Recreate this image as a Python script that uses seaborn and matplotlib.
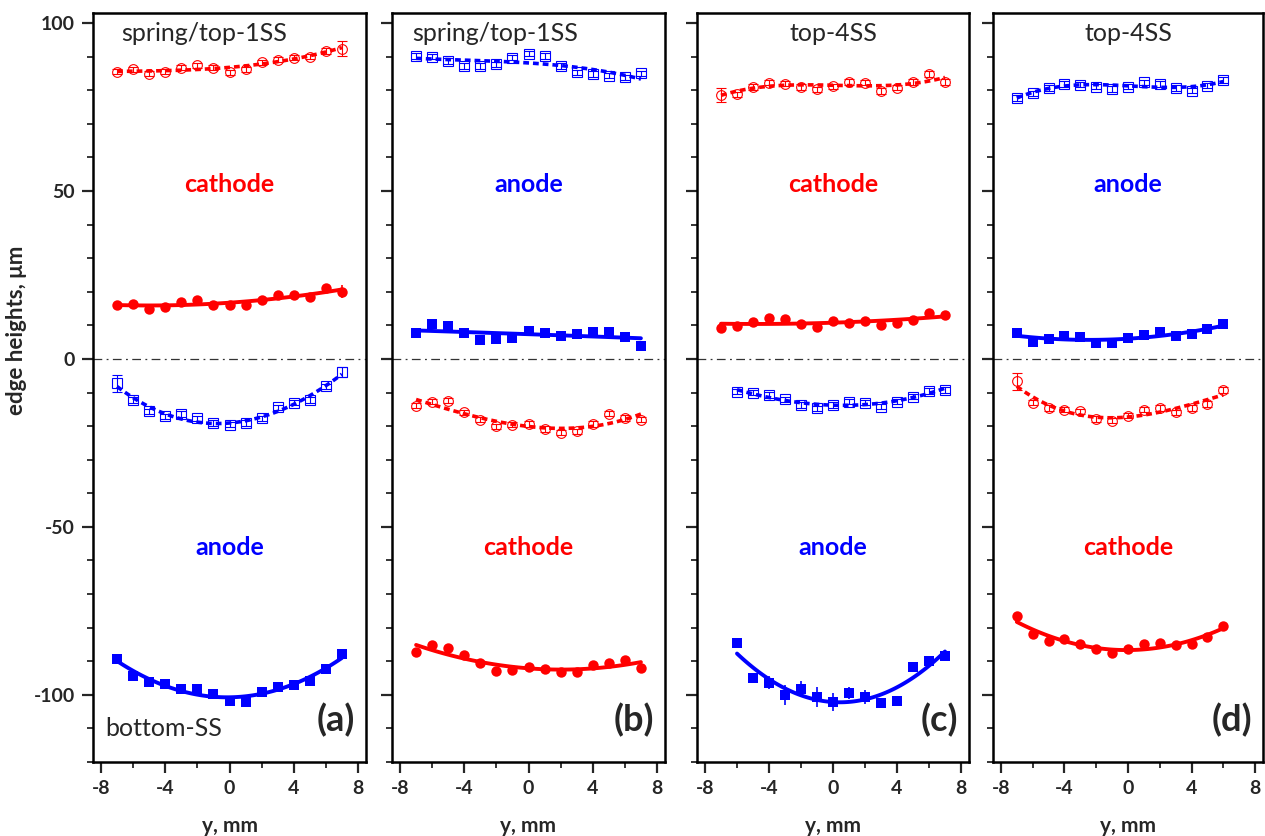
import numpy as np
import matplotlib
matplotlib.use("Agg")
import matplotlib.pyplot as plt
import seaborn as sns
from matplotlib.ticker import MultipleLocator

# --- data (y position in mm, edge height in um) ---
pos_full = [-7, -6, -5, -4, -3, -2, -1, 0, 1, 2, 3, 4, 5, 6, 7]
pos_c = [-6, -5, -4, -3, -2, -1, 0, 1, 2, 3, 4, 5, 6, 7]
pos_d = [-7, -6, -5, -4, -3, -2, -1, 0, 1, 2, 3, 4, 5, 6]

# (a) spring/top-1SS vs bottom-SS
a_top_open = [85.5, 86.2, 84.9, 85.5, 86.7, 87.4, 86.7, 85.3, 86.2, 88.3, 89.1, 89.7, 90.0, 91.7, 92.4]
a_top_open_err = [0.8, 0.8, 0.8, 0.8, 0.8, 0.8, 0.8, 0.8, 0.8, 0.8, 0.8, 0.8, 0.8, 0.8, 2.3]
a_top_fill = [16.0, 16.5, 15.0, 15.5, 17.0, 17.5, 16.0, 16.0, 16.0, 17.5, 19.0, 19.0, 18.5, 21.0, 20.0]
a_top_fill_err = [0, 0, 0, 0, 0, 0, 0, 0, 0, 0, 0, 0, 0, 0, 2.0]
a_bot_open = [-7.2, -12.2, -15.6, -17.1, -16.4, -17.7, -19.1, -19.6, -19.1, -17.7, -14.4, -13.0, -12.2, -8.2, -4.0]
a_bot_open_err = [2.5, 0.8, 0.8, 0.8, 0.8, 0.8, 0.8, 0.8, 0.8, 0.8, 0.8, 0.8, 0.8, 0.8, 1.5]
a_bot_fill = [-89.3, -94.3, -96.2, -96.7, -98.2, -98.2, -99.7, -101.7, -102.2, -99.2, -97.7, -97.2, -96.0, -92.3, -87.8]
a_bot_fill_err = [1.5, 0, 0, 0, 0, 0, 0, 0, 0, 0, 0, 0, 0, 0, 0]

# (b) spring/top-1SS
b_top_open = [90.2, 90.0, 88.7, 87.2, 87.2, 87.7, 89.7, 90.9, 90.2, 87.2, 85.3, 84.8, 84.3, 83.8, 85.0]
b_top_fill = [7.6, 10.3, 9.8, 7.8, 5.6, 5.8, 6.3, 8.4, 7.8, 6.9, 7.3, 8.1, 8.1, 6.6, 3.9]
b_bot_open = [-13.9, -12.7, -12.4, -15.9, -18.1, -20.1, -19.6, -19.4, -20.9, -21.9, -21.6, -19.4, -16.3, -17.6, -18.1]
b_bot_fill = [-87.3, -85.2, -86.2, -88.1, -90.6, -92.8, -92.5, -91.6, -92.3, -93.3, -93.3, -91.1, -90.6, -89.6, -92.0]

# (c) top-4SS
c_top_open = [78.6, 78.8, 81.0, 82.3, 82.0, 81.0, 80.3, 81.2, 82.5, 82.3, 79.8, 80.8, 82.5, 84.8, 82.5]
c_top_open_err = [2.0, 0.8, 0.8, 0.8, 0.8, 0.8, 0.8, 0.8, 0.8, 0.8, 0.8, 0.8, 0.8, 0.8, 0.8]
c_top_fill = [9.1, 9.9, 11.1, 12.3, 11.9, 10.3, 9.6, 11.3, 10.6, 11.3, 10.1, 10.6, 11.6, 13.6, 13.1]
c_bot_open = [-9.7, -10.0, -10.7, -12.0, -13.7, -14.7, -13.7, -12.7, -13.0, -14.2, -12.7, -11.2, -9.5, -9.2]
c_bot_fill = [-84.6, -95.1, -96.4, -100.0, -98.2, -100.7, -102.2, -99.4, -100.7, -102.4, -101.7, -91.8, -89.8, -88.3]
c_bot_fill_err = [0, 0, 1.9, 3.0, 2.4, 3.0, 2.7, 1.8, 2.0, 1.5, 0, 0, 0, 0]

# (d) top-4SS
d_top_open = [77.7, 79.1, 80.7, 81.9, 81.7, 81.1, 80.4, 81.1, 82.4, 81.9, 80.7, 79.9, 81.4, 83.1]
d_top_fill = [7.6, 5.1, 5.9, 6.8, 6.6, 4.8, 4.7, 6.1, 7.1, 8.1, 6.8, 7.4, 8.8, 10.3]
d_bot_open = [-6.7, -13.0, -14.6, -15.1, -15.6, -17.9, -18.4, -16.9, -15.1, -14.6, -15.9, -14.6, -13.4, -9.2]
d_bot_open_err = [2.5, 0.8, 0.8, 0.8, 0.8, 0.8, 0.8, 0.8, 0.8, 0.8, 0.8, 0.8, 0.8, 0.8]
d_bot_fill = [-76.5, -81.9, -83.9, -83.4, -84.9, -86.4, -87.6, -86.4, -84.9, -84.7, -85.1, -84.9, -82.9, -79.6]

RED = '#ff0000'
BLUE = '#0000ff'

sns.set_style("ticks")
plt.rcParams['font.family'] = ['Lato', 'DejaVu Sans']
plt.rcParams['font.weight'] = 'bold'
plt.rcParams['axes.unicode_minus'] = False

fig = plt.figure(figsize=(12.65, 8.36), dpi=100)
W, H = 1265.0, 836.0
lefts = [93, 392, 697, 993]
widths = [273, 273, 272, 270]
top_px, bot_px = 13, 762


def draw(ax, x, y, err, color, marker, filled, order):
    if err is None:
        err = [0.8] * len(x) if not filled else None
    if filled:
        ax.errorbar(x, y, yerr=err, fmt=marker, color=color, ms=7.5, mew=0,
                    capsize=4, elinewidth=1.2, capthick=1.2, zorder=3)
        ls = '-'
        lw = 2.8
    else:
        ax.errorbar(x, y, yerr=err, fmt=marker, mfc='none', mec=color, ecolor=color,
                    ms=7, mew=0.8, capsize=3.5, elinewidth=0.8, capthick=0.8, zorder=3)
        ls = (0, (1.6, 1.1))
        lw = 2.6
    sns.regplot(x=np.array(x, float), y=np.array(y, float), order=order, ci=None,
                scatter=False, truncate=True, ax=ax,
                line_kws=dict(color=color, lw=lw, linestyle=ls, zorder=4))


panels = [
    dict(series=[(pos_full, a_top_open, a_top_open_err, RED, 'o', False),
                 (pos_full, a_top_fill, a_top_fill_err, RED, 'o', True),
                 (pos_full, a_bot_open, a_bot_open_err, BLUE, 's', False),
                 (pos_full, a_bot_fill, a_bot_fill_err, BLUE, 's', True)],
         title='spring/top-1SS', tx=0.105, ha='left',
         upper='cathode', upper_c=RED, lower='anode', lower_c=BLUE, tag='(a)'),
    dict(series=[(pos_full, b_top_open, None, BLUE, 's', False),
                 (pos_full, b_top_fill, None, BLUE, 's', True),
                 (pos_full, b_bot_open, None, RED, 'o', False),
                 (pos_full, b_bot_fill, None, RED, 'o', True)],
         title='spring/top-1SS', tx=0.075, ha='left',
         upper='anode', upper_c=BLUE, lower='cathode', lower_c=RED, tag='(b)'),
    dict(series=[(pos_full, c_top_open, c_top_open_err, RED, 'o', False),
                 (pos_full, c_top_fill, None, RED, 'o', True),
                 (pos_c, c_bot_open, None, BLUE, 's', False),
                 (pos_c, c_bot_fill, c_bot_fill_err, BLUE, 's', True)],
         title='top-4SS', tx=0.5, ha='center',
         upper='cathode', upper_c=RED, lower='anode', lower_c=BLUE, tag='(c)'),
    dict(series=[(pos_d, d_top_open, None, BLUE, 's', False),
                 (pos_d, d_top_fill, None, BLUE, 's', True),
                 (pos_d, d_bot_open, d_bot_open_err, RED, 'o', False),
                 (pos_d, d_bot_fill, None, RED, 'o', True)],
         title='top-4SS', tx=0.5, ha='center',
         upper='anode', upper_c=BLUE, lower='cathode', lower_c=RED, tag='(d)'),
]

for i, p in enumerate(panels):
    ax = fig.add_axes([lefts[i] / W, 1 - bot_px / H, widths[i] / W, (bot_px - top_px) / H])
    ax.axhline(0, color='#333333', lw=0.9, ls=(0, (7, 3.5, 1.5, 3.5)), zorder=1)
    for (x, y, err, col, mk, filled) in p['series']:
        draw(ax, x, y, err, col, mk, filled, 2 if filled else 3)

    ax.set_xlim(-8.5, 8.5)
    ax.set_ylim(-120, 103)
    ax.xaxis.set_major_locator(MultipleLocator(4))
    ax.xaxis.set_minor_locator(MultipleLocator(2))
    ax.yaxis.set_major_locator(MultipleLocator(50))
    ax.yaxis.set_minor_locator(MultipleLocator(10))
    ax.tick_params(which='major', direction='out', length=8, width=1.6, labelsize=14, pad=5)
    ax.tick_params(which='minor', direction='out', length=4.5, width=1.3)
    for s in ax.spines.values():
        s.set_linewidth(1.8)
        s.set_color('black')
    for lab in ax.get_xticklabels() + ax.get_yticklabels():
        lab.set_fontweight('bold')
    if i > 0:
        ax.set_yticklabels([])
    ax.set_xlabel('y, mm', fontsize=15, fontweight='bold', labelpad=14)
    ax.set_ylabel('')

    ax.text(p['tx'], 0.972, p['title'], transform=ax.transAxes, ha=p['ha'], va='center',
            fontsize=18, fontweight='normal')
    ax.text(0, 52, p['upper'], color=p['upper_c'], ha='center', va='center',
            fontsize=18, fontweight='bold')
    ax.text(0, -56, p['lower'], color=p['lower_c'], ha='center', va='center',
            fontsize=18, fontweight='bold')
    ax.text(0.96, 0.056, p['tag'], transform=ax.transAxes, ha='right', va='center',
            fontsize=26, fontweight='bold')
    if i == 0:
        ax.text(0.045, 0.045, 'bottom-SS', transform=ax.transAxes, ha='left', va='center',
                fontsize=18, fontweight='normal')

fig.text(17 / W, 1 - 330 / H, 'edge heights, \u03bcm', rotation=90, ha='center', va='center',
         fontsize=16, fontweight='bold')

fig.savefig('out.png', dpi=100)
